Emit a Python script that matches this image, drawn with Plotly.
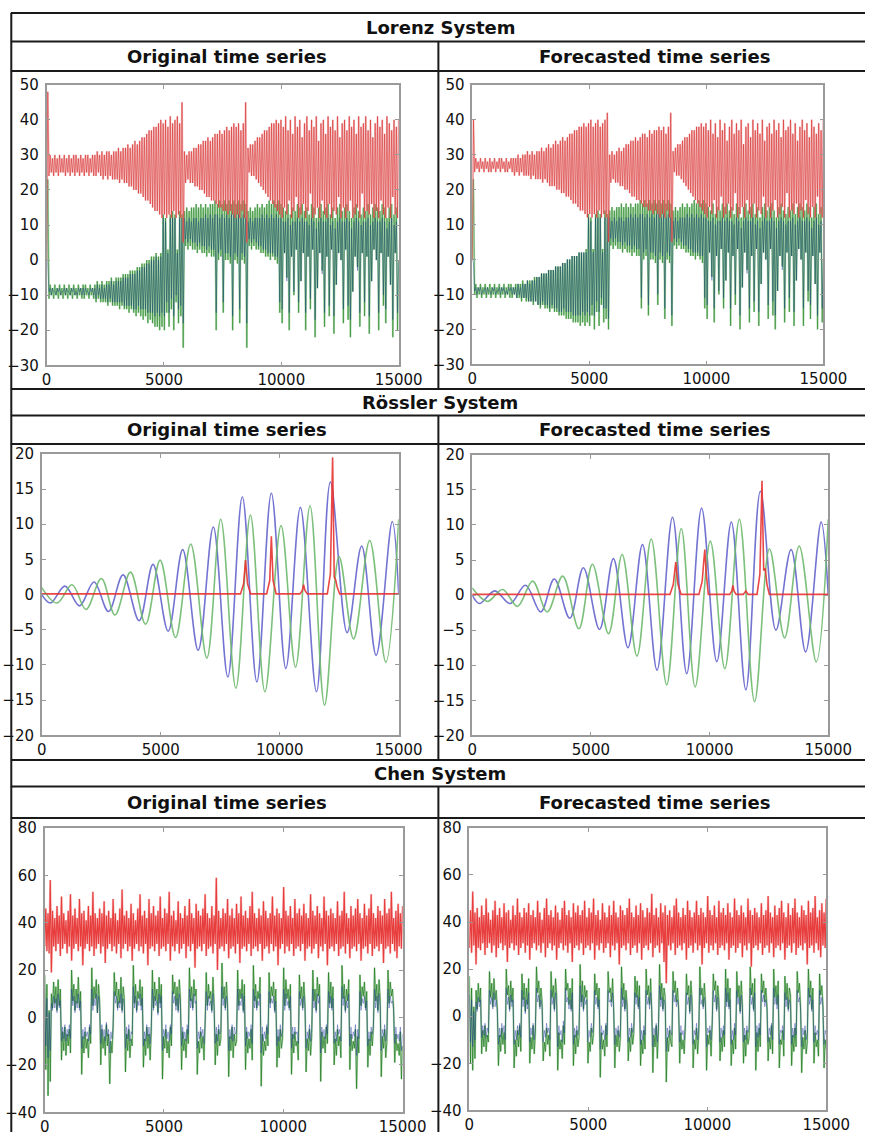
import numpy as np
import plotly.graph_objects as go

W, H = 889, 1141
T_END = 15000
FONT = "DejaVu Sans"

# ---------------- Lorenz system: turning-point values, evenly spaced in time ----------------
LORENZ_ORIG_Z = [
    0, 48, 24, 30, 25, 29, 24, 30, 25, 29, 24, 30, 25, 29, 25, 30, 24, 29, 25, 30,
    24, 29, 25, 30, 24, 30, 25, 29, 24, 30, 25, 29, 24, 30, 25, 30, 24, 29, 25, 30,
    24, 30, 24, 31, 25, 30, 24, 31, 23, 30, 24, 31, 23, 31, 24, 30, 23, 31, 23, 31,
    23, 32, 22, 31, 23, 32, 22, 32, 22, 33, 21, 32, 21, 33, 20, 34, 20, 33, 19, 34,
    19, 35, 18, 35, 17, 36, 17, 37, 16, 37, 15, 38, 14, 38, 14, 39, 13, 40, 12, 39,
    13, 40, 12, 38, 13, 41, 12, 39, 14, 40, 12, 41, 13, 39, 12, 45, 5, 31, 22, 30,
    23, 31, 22, 31, 22, 32, 21, 32, 21, 33, 20, 33, 20, 34, 19, 34, 18, 35, 18, 34,
    17, 35, 17, 36, 16, 36, 15, 37, 15, 36, 14, 37, 14, 38, 13, 37, 14, 38, 13, 39,
    12, 38, 13, 39, 12, 37, 14, 39, 12, 45, 5, 32, 25, 33, 24, 33, 24, 34, 23, 35,
    22, 35, 21, 36, 20, 37, 19, 37, 18, 38, 17, 39, 16, 39, 15, 40, 14, 39, 13, 40,
    12, 38, 15, 41, 13, 37, 17, 40, 12, 36, 14, 41, 18, 38, 12, 40, 13, 35, 16, 39,
    12, 41, 14, 37, 19, 40, 12, 38, 13, 41, 15, 34, 12, 39, 17, 40, 13, 36, 12, 41,
    16, 38, 12, 40, 14, 37, 13, 41, 18, 35, 12, 39, 15, 40, 12, 37, 14, 41, 17, 38,
    12, 40, 13, 36, 15, 41, 12, 38, 19, 39, 12, 41, 14, 37, 13, 40, 16, 35, 12, 39,
    14, 41, 12, 38, 17, 40, 13, 36, 12, 41, 15, 39, 12, 37, 18, 40, 13, 38, 12, 40]

LORENZ_ORIG_Y = [
    0, 23, -11, -7, -10, -8, -11, -7, -10, -8, -11, -7, -10, -8, -11, -7, -10, -8, -11, -7,
    -10, -8, -11, -7, -10, -8, -11, -7, -10, -8, -11, -7, -11, -7, -10, -8, -11, -7, -10, -8,
    -11, -7, -12, -6, -11, -7, -12, -6, -12, -7, -12, -6, -13, -6, -12, -5, -13, -6, -13, -5,
    -13, -5, -14, -5, -13, -4, -14, -4, -14, -4, -15, -3, -14, -3, -15, -3, -16, -2, -15, -2,
    -16, -1, -17, -1, -16, 0, -18, 0, -17, 1, -18, 1, -19, 2, -19, 1, -20, 2, -19, 13,
    -20, 12, -15, 3, -19, 13, -14, 14, -20, 13, -12, 3, -18, 14, -16, 13, -25, 14, 4, 15,
    3, 14, 4, 15, 3, 15, 3, 16, 2, 15, 3, 16, 2, 15, 2, 16, 1, 15, 2, 16,
    1, 16, 1, 17, -20, 16, 0, 17, 1, 16, -15, 17, 0, 16, 0, 17, -1, 16, -20, 17,
    0, 16, -1, 17, -18, 16, 0, 17, -1, 16, -25, 14, 4, 15, 3, 14, 4, 15, 3, 16,
    3, 15, 2, 16, 2, 15, 1, 16, 1, 17, 0, 16, 1, 17, 0, 16, -1, 17, -15, 16,
    -18, 15, 2, 14, -5, 16, -20, 13, 1, 15, -10, 14, 3, 16, -15, 15, -6, 16, 2, 14,
    -20, 15, 1, 13, -14, 16, 3, 15, -22, 12, -8, 15, 2, 16, -3, 14, -19, 15, 1, 16,
    -16, 13, 3, 15, -21, 12, -7, 15, 2, 16, 0, 14, -18, 15, 3, 16, -17, 14, -22, 12,
    -9, 15, 1, 16, -2, 14, -19, 13, 2, 15, -16, 14, 1, 16, -21, 13, -6, 15, 3, 16,
    0, 15, -20, 14, 2, 16, -13, 15, -18, 12, 1, 15, -7, 16, -22, 13, 2, 15, -20, 0]

LORENZ_ORIG_X = [
    0, -1, -9, -8, -10, -8, -9, -9, -10, -8, -9, -8, -10, -9, -9, -8, -10, -8, -9, -9,
    -10, -8, -9, -8, -10, -9, -10, -8, -9, -8, -10, -8, -10, -8, -9, -9, -10, -8, -9, -8,
    -10, -8, -11, -7, -10, -8, -11, -7, -11, -8, -11, -7, -12, -7, -11, -6, -12, -7, -12, -6,
    -12, -6, -12, -6, -12, -5, -13, -5, -13, -5, -13, -4, -13, -4, -14, -4, -14, -3, -13, -3,
    -14, -2, -14, -2, -14, -1, -15, -1, -15, 0, -15, 0, -16, 1, -15, 0, -16, 1, -15, 12,
    -16, 11, -12, 2, -15, 12, -11, 12, -16, 12, -10, 2, -14, 12, -13, 12, -18, 12, 6, 11,
    5, 12, 6, 11, 5, 12, 5, 12, 4, 11, 5, 12, 4, 12, 4, 13, 3, 12, 4, 13,
    3, 12, 3, 13, -15, 13, 2, 12, 3, 13, -12, 12, 2, 13, 2, 12, 1, 13, -16, 13,
    2, 12, 1, 13, -14, 12, 2, 13, 1, 12, -18, 11, 6, 12, 5, 11, 6, 12, 5, 12,
    4, 12, 4, 13, 3, 12, 3, 13, 2, 12, 2, 13, 2, 12, 1, 13, 1, 12, -12, 12,
    -14, 11, 2, 11, -6, 12, -15, 10, 1, 11, -9, 11, 3, 12, -12, 11, -6, 12, 2, 11,
    -15, 11, 1, 10, -11, 12, 3, 11, -17, 9, -8, 11, 2, 12, -4, 11, -15, 11, 1, 12,
    -13, 10, 3, 11, -16, 9, -7, 11, 2, 12, 0, 11, -14, 11, 3, 12, -13, 11, -17, 9,
    -9, 11, 1, 12, -3, 11, -15, 10, 2, 11, -12, 11, 1, 12, -16, 10, -6, 11, 3, 12,
    0, 11, -15, 11, 2, 12, -10, 11, -14, 9, 1, 11, -7, 12, -17, 10, 2, 11, -15, 0]

LORENZ_FCST_Z = [
    0, 40, 25, 29, 26, 28, 25, 29, 26, 28, 25, 29, 26, 28, 25, 29, 25, 28, 26, 29,
    25, 28, 26, 29, 25, 29, 26, 28, 25, 29, 25, 28, 26, 29, 25, 29, 24, 29, 25, 30,
    24, 29, 25, 30, 24, 30, 24, 31, 24, 30, 23, 31, 24, 30, 23, 31, 23, 31, 23, 32,
    22, 31, 23, 32, 22, 33, 21, 32, 21, 33, 21, 34, 20, 33, 20, 34, 19, 35, 19, 34,
    18, 35, 18, 36, 17, 36, 16, 37, 16, 37, 15, 38, 14, 38, 14, 39, 13, 38, 12, 39,
    13, 40, 12, 38, 13, 39, 12, 40, 14, 38, 12, 39, 13, 40, 12, 42, 5, 30, 22, 31,
    23, 30, 22, 31, 22, 32, 21, 31, 21, 32, 20, 33, 20, 33, 19, 34, 18, 34, 18, 35,
    17, 34, 17, 35, 16, 36, 15, 36, 15, 35, 14, 37, 14, 36, 13, 37, 14, 37, 13, 38,
    12, 37, 13, 38, 12, 36, 14, 38, 12, 42, 5, 31, 25, 32, 24, 33, 24, 33, 23, 34,
    22, 35, 21, 35, 20, 36, 19, 37, 18, 37, 17, 38, 16, 38, 15, 39, 14, 38, 13, 39,
    12, 37, 15, 40, 13, 36, 17, 39, 12, 35, 14, 40, 18, 37, 12, 39, 13, 34, 16, 38,
    12, 40, 14, 36, 19, 39, 12, 37, 13, 40, 15, 33, 12, 38, 17, 39, 13, 35, 12, 40,
    16, 37, 12, 39, 14, 36, 13, 40, 18, 34, 12, 38, 15, 39, 12, 36, 14, 40, 17, 37,
    12, 39, 13, 35, 15, 40, 12, 37, 19, 38, 12, 40, 14, 36, 13, 39, 16, 34, 12, 38,
    14, 40, 12, 37, 17, 39, 13, 35, 12, 40, 15, 38, 12, 36, 18, 39, 13, 37, 12, 40]

LORENZ_FCST_Y = [
    0, 23, -10, -7, -11, -8, -10, -7, -11, -8, -10, -7, -11, -8, -10, -7, -11, -8, -10, -7,
    -11, -8, -10, -7, -11, -8, -10, -7, -11, -8, -10, -7, -11, -7, -11, -8, -10, -7, -11, -7,
    -11, -7, -12, -6, -11, -7, -12, -6, -12, -6, -12, -6, -13, -5, -12, -5, -13, -5, -14, -4,
    -13, -4, -14, -4, -14, -3, -15, -3, -14, -3, -15, -2, -15, -2, -16, -2, -16, -1, -16, -1,
    -17, 0, -17, 0, -17, 1, -18, 1, -18, 1, -18, 2, -19, 2, -18, 2, -19, 3, -18, 13,
    -19, 12, -16, 3, -20, 13, -15, 14, -19, 13, -13, 3, -18, 14, -17, 13, -20, 14, 4, 15,
    3, 14, 4, 15, 3, 15, 3, 16, 2, 15, 3, 16, 2, 15, 2, 16, 1, 15, 2, 16,
    1, 16, 1, 17, -14, 16, 0, 17, 1, 16, -16, 17, 0, 16, 0, 17, -1, 16, -13, 17,
    0, 16, -1, 17, -17, 16, 0, 17, -1, 16, -19, 14, 4, 15, 3, 14, 4, 15, 3, 16,
    3, 15, 2, 16, 2, 15, 1, 16, 1, 17, 0, 16, 1, 17, 0, 16, -1, 17, -14, 16,
    -17, 15, 2, 14, -5, 16, -18, 13, 1, 15, -10, 14, 3, 16, -14, 15, -6, 16, 2, 14,
    -19, 15, 1, 13, -13, 16, 3, 15, -20, 12, -8, 15, 2, 16, -3, 14, -18, 15, 1, 16,
    -15, 13, 3, 15, -19, 12, -7, 15, 2, 16, 0, 14, -17, 15, 3, 16, -16, 14, -20, 12,
    -9, 15, 1, 16, -2, 14, -18, 13, 2, 15, -15, 14, 1, 16, -19, 13, -6, 15, 3, 16,
    0, 15, -19, 14, 2, 16, -12, 15, -17, 12, 1, 15, -7, 16, -20, 13, 2, 15, -18, 0]

LORENZ_FCST_X = [
    0, -1, -9, -8, -10, -8, -9, -8, -10, -9, -9, -8, -10, -8, -9, -9, -10, -8, -9, -8,
    -10, -9, -9, -8, -10, -8, -9, -8, -10, -9, -10, -8, -9, -8, -10, -8, -10, -8, -11, -7,
    -10, -8, -11, -7, -11, -7, -11, -6, -12, -7, -12, -6, -12, -6, -12, -5, -13, -5, -13, -4,
    -12, -4, -13, -4, -13, -3, -14, -3, -13, -3, -14, -2, -14, -2, -15, -2, -15, -1, -14, -1,
    -15, 0, -15, 0, -15, 1, -16, 1, -16, 1, -16, 2, -16, 2, -15, 2, -16, 2, -15, 12,
    -16, 11, -13, 2, -16, 12, -12, 12, -15, 12, -11, 2, -14, 12, -14, 12, -17, 12, 6, 11,
    5, 12, 6, 11, 5, 12, 5, 12, 4, 11, 5, 12, 4, 12, 4, 13, 3, 12, 4, 13,
    3, 12, 3, 13, -11, 13, 2, 12, 3, 13, -13, 12, 2, 13, 2, 12, 1, 13, -10, 13,
    2, 12, 1, 13, -14, 12, 2, 13, 1, 12, -16, 11, 6, 12, 5, 11, 6, 12, 5, 12,
    4, 12, 4, 13, 3, 12, 3, 13, 2, 12, 2, 13, 2, 12, 1, 13, 1, 12, -11, 12,
    -13, 11, 2, 11, -6, 12, -14, 10, 1, 11, -9, 11, 3, 12, -11, 11, -6, 12, 2, 11,
    -14, 11, 1, 10, -10, 12, 3, 11, -16, 9, -8, 11, 2, 12, -4, 11, -14, 11, 1, 12,
    -12, 10, 3, 11, -15, 9, -7, 11, 2, 12, 0, 11, -13, 11, 3, 12, -12, 11, -16, 9,
    -9, 11, 1, 12, -3, 11, -14, 10, 2, 11, -11, 11, 1, 12, -15, 10, -6, 11, 3, 12,
    0, 11, -14, 11, 2, 12, -9, 11, -13, 9, 1, 11, -7, 12, -16, 10, 2, 11, -14, 0]

# ---------------- Rossler system: extrema (time, value) ----------------
ROSSLER_ORIG_X_T = [0, 366, 975, 1585, 2195, 2805, 3415, 4092, 4675, 5312, 5921, 6572, 7209,
                    7818, 8428, 9038, 9648, 10257, 10867, 11545, 12128, 12832, 13442, 14051,
                    14729, 15000]
ROSSLER_ORIG_X = [0, -1.2, 1.2, -1.6, 1.8, -2.4, 2.8, -3.7, 4.3, -5.2, 6.4, -7.9, 9.6,
                  -11.7, 13.9, -12.4, 14.4, -10.5, 12.4, -13.8, 16.0, -5.4, 6.9, -8.6,
                  10.4, 0]
ROSSLER_ORIG_Y_T = [0, 637, 1274, 1856, 2507, 3076, 3726, 4363, 4973, 5623, 6260, 6938, 7520,
                    8157, 8767, 9377, 10054, 10664, 11274, 11884, 12493, 13103, 13780, 14458,
                    15000]
ROSSLER_ORIG_Y = [1.0, -1.2, 1.4, -2.1, 2.3, -2.9, 3.2, -4.2, 4.9, -6.1, 7.2, -9.0, 10.7,
                  -13.3, 11.3, -13.8, 9.8, -10.3, 12.6, -15.7, 5.4, -6.3, 7.7, -9.6, 10.7]
ROSSLER_ORIG_Z_T = [0, 8350, 8480, 8564, 8650, 8780, 9450, 9580, 9648, 9720, 9850, 10850,
                    10950, 11003, 11060, 11160, 12000, 12130, 12222, 12290, 12350, 12420,
                    12520, 15000]
ROSSLER_ORIG_Z = [0.1, 0.1, 1.5, 4.9, 1.5, 0.1, 0.1, 2.0, 8.3, 2.0, 0.1, 0.1,
                  0.6, 1.4, 0.6, 0.1, 0.1, 3.0, 19.5, 2.5, 2.1, 1.0,
                  0.1, 0.1]

ROSSLER_FCST_X_T = [0, 300, 953, 1593, 2246, 2886, 3457, 4111, 4682, 5363, 5948, 6561, 7174,
                    7786, 8439, 9038, 9664, 10304, 10917, 11529, 12141, 12795, 13434, 14047,
                    14701, 15000]
ROSSLER_FCST_X = [0, -1.2, 0.6, -1.2, 1.4, -2.4, 2.3, -3.3, 3.9, -4.9, 5.2, -7.5, 7.2,
                  -10.7, 11.1, -11.2, 12.4, -9.5, 10.4, -13.5, 14.8, -5.0, 6.5, -8.1,
                  10.4, 0]
ROSSLER_FCST_Y_T = [0, 640, 1279, 1906, 2545, 3158, 3811, 4492, 5064, 5744, 6316, 6942, 7541,
                    8194, 8807, 9392, 10032, 10644, 11257, 11897, 12523, 13162, 13775, 14497,
                    15000]
ROSSLER_FCST_Y = [1.0, -0.9, 0.8, -1.6, 2.0, -2.4, 2.7, -4.8, 4.4, -5.5, 5.8, -8.7, 8.0,
                  -12.8, 9.5, -13.1, 7.7, -10.5, 10.8, -15.2, 6.6, -6.1, 7.0, -9.5, 10.8]
ROSSLER_FCST_Z_T = [0, 8330, 8470, 8575, 8670, 8800, 9550, 9690, 9760, 9800, 9860, 9950,
                    10850, 10940, 10984, 11030, 11120, 11420, 11529, 11620, 12000, 12120,
                    12209, 12280, 12345, 12420, 12520, 15000]
ROSSLER_FCST_Z = [0.1, 0.1, 1.5, 4.7, 1.5, 0.1, 0.1, 2.0, 5.0, 6.5, 3.0, 0.1,
                  0.1, 0.6, 1.4, 0.6, 0.1, 0.1, 0.6, 0.1, 0.1, 3.0,
                  16.3, 3.5, 3.8, 1.5, 0.1, 0.1]

# ---------------- Chen system: turning-point values, evenly spaced in time ----------------
CHEN_ORIG_Z = [
    30, 46, 28, 44, 27, 58, 19, 45, 30, 42, 28, 47, 31, 43, 26, 51, 29, 44, 31, 41,
    27, 45, 30, 52, 24, 43, 29, 46, 31, 42, 28, 50, 30, 44, 22, 45, 29, 41, 31, 47,
    28, 43, 30, 53, 26, 44, 29, 42, 31, 46, 27, 44, 30, 49, 23, 43, 29, 45, 31, 42,
    28, 50, 30, 44, 27, 41, 31, 46, 25, 54, 29, 43, 31, 45, 28, 42, 30, 48, 24, 44,
    29, 41, 31, 46, 28, 52, 30, 43, 27, 45, 31, 42, 22, 50, 29, 44, 30, 47, 28, 43,
    31, 45, 26, 51, 29, 42, 30, 46, 28, 44, 31, 53, 24, 43, 30, 45, 28, 41, 31, 49,
    27, 44, 29, 42, 31, 47, 25, 43, 30, 50, 28, 44, 31, 42, 21, 48, 29, 45, 30, 43,
    28, 46, 31, 52, 26, 44, 29, 42, 30, 47, 27, 43, 31, 59, 20, 45, 29, 42, 30, 46,
    28, 44, 31, 50, 25, 43, 29, 46, 30, 42, 27, 48, 31, 44, 23, 51, 29, 43, 30, 45,
    28, 42, 31, 47, 26, 53, 29, 44, 30, 42, 28, 46, 31, 43, 24, 49, 29, 45, 30, 42,
    27, 44, 31, 51, 28, 43, 30, 46, 22, 44, 29, 42, 31, 55, 27, 45, 30, 43, 28, 47,
    31, 42, 26, 50, 29, 44, 30, 46, 28, 43, 31, 48, 24, 44, 29, 42, 30, 52, 27, 45,
    29, 43, 31, 47, 25, 44, 30, 42, 28, 51, 31, 45, 22, 43, 29, 46, 30, 44, 28, 42,
    31, 49, 26, 43, 29, 45, 30, 53, 27, 44, 31, 42, 25, 47, 29, 43, 30, 46, 28, 50,
    31, 44, 24, 42, 29, 48, 30, 43, 27, 46, 31, 52, 26, 44, 29, 42, 30, 47, 28, 45,
    31, 43, 23, 50, 29, 44, 30, 46, 27, 53, 31, 42, 28, 45, 25, 48, 30, 44, 29, 47]

CHEN_ORIG_Y = [
    18, -22, 14, -33, 3, -27, 10, 4, 15, 6, 13, 3, 16, 5, 12, -18, -6, -14, -4, -16,
    -7, -12, -5, -15, 20, 7, 14, 3, 12, 6, 17, 4, 11, -24, -8, -15, -6, -13, -9, -17,
    -4, -11, 21, 5, 13, 8, 16, 2, 14, 7, -20, -5, -13, -8, -16, -3, -12, -7, -28, -10,
    -15, -5, 19, 9, 15, 4, 12, 6, 17, 3, 13, 8, -23, -7, -14, -5, -17, -9, -12, 22,
    6, 14, 3, 11, 8, 16, 5, 13, -21, -9, -16, -4, -13, -7, -18, -6, 20, 4, 15, 7,
    12, 2, 17, 6, 14, -26, -8, -13, -5, -15, -10, -17, -4, -12, 18, 10, 15, 5, 13, 3,
    16, 8, -22, -6, -14, -9, -17, -5, -11, 21, 7, 13, 4, 16, 9, 12, -24, -10, -15, -6,
    -13, -8, -18, -3, 19, 5, 14, 8, 11, 3, 17, 6, -20, -7, -16, -5, -12, -9, 23, 8,
    13, 4, 15, 6, -25, -8, -14, -4, -17, -7, -12, -10, 20, 5, 12, 8, 16, 3, 14, -22,
    -6, -15, -9, -13, -5, -18, 22, 7, 14, 4, 11, 8, 17, -29, -7, -16, -10, -14, -4, -12,
    19, 6, 13, 9, 15, 3, 12, -21, -8, -17, -5, -13, -9, 21, 5, 16, 8, 12, 4, 14,
    -24, -7, -15, -6, -12, -10, -18, 18, 8, 13, 4, 15, 6, -23, -9, -14, -5, -16, -8, 20,
    7, 12, 3, 17, 9, 14, -27, -6, -13, -8, -15, -4, -11, 19, 6, 15, 4, 13, -20, -9,
    -16, -5, -12, -8, -17, 22, 8, 14, 3, 12, 7, 16, -22, -7, -14, -10, -13, -5, -30, -8,
    -15, 18, 5, 13, 9, 15, 4, 11, -21, -9, -16, -6, -12, -4, 21, 7, 14, 3, 16, 8,
    -25, -8, -13, -5, -17, -10, 20, 6, 15, 9, 12, 4, -19, -7, -14, -11, -16, -6, -26, -12]

CHEN_ORIG_X = [
    10, -12, 8, -17, 2, -14, 6, 3, 9, 4, 8, 2, 10, 4, 7, -10, -4, -9, -3, -10,
    -5, -8, -3, -9, 12, 5, 9, 2, 7, 4, 10, 3, 7, -13, -5, -9, -4, -8, -6, -10,
    -3, -7, 12, 3, 8, 5, 10, 2, 9, 5, -11, -3, -8, -5, -10, -2, -8, -5, -15, -6,
    -9, -3, 11, 6, 9, 3, 7, 4, 10, 2, 8, 5, -13, -4, -9, -3, -10, -6, -7, 13,
    4, 9, 2, 7, 5, 10, 3, 8, -12, -6, -10, -3, -8, -4, -11, -4, 12, 3, 9, 5,
    7, 1, 10, 4, 9, -14, -5, -8, -3, -9, -6, -10, -3, -7, 11, 6, 9, 3, 8, 2,
    10, 5, -12, -4, -9, -6, -10, -3, -7, 12, 4, 8, 3, 10, 6, 7, -13, -6, -9, -4,
    -8, -5, -11, -2, 11, 3, 9, 5, 7, 2, 10, 4, -11, -4, -10, -3, -7, -6, 13, 5,
    8, 3, 9, 4, -14, -5, -9, -3, -10, -4, -7, -6, 12, 3, 7, 5, 10, 2, 9, -12,
    -4, -9, -6, -8, -3, -11, 12, 4, 9, 3, 7, 5, 10, -15, -4, -10, -6, -9, -3, -7,
    11, 4, 8, 6, 9, 2, 7, -12, -5, -10, -3, -8, -6, 12, 3, 10, 5, 7, 3, 9,
    -13, -4, -9, -4, -7, -6, -11, 11, 5, 8, 3, 9, 4, -13, -6, -9, -3, -10, -5, 12,
    4, 7, 2, 10, 6, 9, -15, -4, -8, -5, -9, -3, -7, 11, 4, 9, 3, 8, -11, -6,
    -10, -3, -7, -5, -10, 13, 5, 9, 2, 7, 4, 10, -12, -4, -9, -6, -8, -3, -16, -5,
    -9, 11, 3, 8, 6, 9, 3, 7, -12, -6, -10, -4, -7, -3, 12, 4, 9, 2, 10, 5,
    -14, -5, -8, -3, -10, -6, 12, 4, 9, 6, 7, 3, -11, -4, -9, -7, -10, -4, -14, -7]

CHEN_FCST_Z = [
    29, 45, 27, 53, 30, 44, 22, 46, 29, 42, 28, 47, 31, 43, 26, 50, 29, 44, 31, 41,
    27, 45, 30, 49, 25, 43, 29, 46, 31, 42, 28, 48, 30, 44, 23, 45, 29, 41, 31, 47,
    28, 43, 30, 50, 26, 44, 29, 42, 31, 46, 27, 44, 30, 48, 24, 43, 29, 45, 31, 42,
    28, 49, 30, 44, 27, 41, 31, 46, 25, 50, 29, 43, 31, 45, 28, 42, 30, 47, 24, 44,
    29, 41, 31, 46, 28, 49, 30, 43, 27, 45, 31, 42, 23, 48, 29, 44, 30, 47, 28, 43,
    31, 45, 26, 49, 29, 42, 30, 46, 28, 44, 31, 50, 24, 43, 30, 45, 28, 41, 31, 48,
    27, 44, 29, 42, 31, 47, 25, 43, 30, 49, 28, 44, 31, 42, 22, 47, 29, 45, 30, 43,
    28, 46, 31, 50, 26, 44, 29, 42, 30, 47, 27, 43, 31, 48, 24, 45, 29, 42, 30, 46,
    28, 44, 31, 52, 25, 43, 29, 46, 30, 42, 27, 48, 31, 44, 23, 47, 14, 43, 30, 45,
    28, 42, 31, 47, 26, 50, 29, 44, 30, 42, 28, 46, 31, 43, 24, 49, 29, 45, 30, 42,
    27, 44, 31, 49, 28, 43, 30, 46, 22, 44, 29, 42, 31, 51, 27, 45, 30, 43, 28, 47,
    31, 42, 26, 49, 29, 44, 30, 46, 28, 43, 31, 48, 24, 44, 29, 42, 30, 50, 27, 45,
    29, 43, 31, 47, 25, 44, 30, 42, 28, 50, 31, 45, 21, 43, 29, 46, 30, 44, 28, 42,
    31, 48, 26, 43, 29, 45, 30, 51, 27, 44, 31, 42, 25, 47, 29, 43, 30, 46, 28, 49,
    31, 44, 24, 42, 29, 48, 30, 43, 27, 46, 31, 50, 26, 44, 29, 42, 30, 47, 28, 45,
    31, 43, 22, 49, 29, 44, 30, 46, 27, 51, 31, 42, 28, 45, 25, 48, 30, 44, 29, 50]

CHEN_FCST_Y = [
    17, -20, 12, -23, 4, -18, 11, 3, 14, 6, 12, -16, -6, -13, -4, -15, -8, -11, 19, 8,
    14, 4, 16, 7, 11, 3, -21, -8, -15, -5, -12, -7, -16, 20, 9, 13, 3, 15, 6, 12,
    -22, -10, -17, -6, -13, -4, -15, 18, 7, 14, 2, 12, 5, 16, -20, -9, -14, -4, -16, -7,
    21, 10, 15, 4, 12, 6, -19, -11, -15, -5, -12, -8, -17, 19, 8, 13, 3, 16, 9, -23,
    -7, -14, -10, -18, -4, -12, 20, 11, 14, 5, 12, 3, 16, -21, -8, -16, -6, -13, -9, 22,
    6, 15, 3, 13, 8, 11, -20, -11, -15, -5, -12, -7, 18, 9, 14, 4, 12, -26, -7, -14,
    -10, -17, -4, -13, 19, 10, 12, 6, 16, 3, -22, -8, -13, -6, -15, -9, 21, 7, 14, 3,
    11, 5, -19, -9, -15, -5, -12, -7, 17, 8, 15, 4, 13, -21, -10, -16, -6, -14, 20, 9,
    13, 5, 16, 3, -24, -8, -13, -4, -18, -6, 22, 7, 14, 3, 12, 8, -28, -9, -15, -6,
    -11, -13, 19, 10, 15, 6, 12, 4, -20, -7, -14, -10, -16, -5, 18, 9, 13, 2, 15, 7,
    -22, -10, -14, -5, -16, -8, 21, 9, 12, 4, 14, 6, -23, -8, -12, -6, -17, -4, 18, 11,
    15, 3, 13, 7, -19, -9, -15, -6, -13, 20, 6, 16, 4, 12, -21, -10, -16, -5, -14, 19,
    8, 13, 2, 15, 5, -20, -8, -17, -6, -12, -9, 21, 9, 14, 3, 16, -23, -7, -15, -5,
    -13, 18, 10, 15, 6, 12, 4, -19, -9, -14, -4, -16, 20, 8, 13, 5, 15, -22, -10, -12,
    -6, -17, 17, 7, 14, 3, 12, 9, -21, -8, -15, -5, -13, 19, 10, 14, 4, -24, -9, -14,
    -6, -16, -11, 20, 8, 15, 3, 12, -20, -7, -13, -10, -17, 18, 9, 13, 5, -22, -10, -14]

CHEN_FCST_X = [
    9, -11, 7, -13, 2, -10, 6, 2, 8, 4, 7, -9, -4, -8, -3, -9, -5, -7, 11, 5,
    8, 3, 10, 4, 7, 2, -12, -5, -9, -3, -7, -4, -10, 12, 5, 8, 2, 9, 4, 7,
    -12, -6, -10, -4, -8, -3, -9, 11, 4, 8, 1, 7, 3, 10, -11, -5, -8, -3, -10, -4,
    12, 6, 9, 3, 7, 4, -11, -6, -9, -3, -7, -5, -10, 11, 5, 8, 2, 10, 5, -13,
    -4, -8, -6, -11, -2, -7, 12, 6, 8, 3, 7, 2, 10, -12, -5, -9, -4, -8, -5, 13,
    4, 9, 2, 8, 5, 7, -11, -6, -9, -3, -7, -4, 11, 5, 8, 3, 7, -14, -4, -8,
    -6, -10, -3, -8, 11, 6, 7, 4, 10, 2, -12, -5, -8, -4, -9, -5, 12, 4, 8, 2,
    7, 3, -11, -5, -9, -3, -7, -4, 10, 5, 9, 3, 8, -12, -6, -10, -4, -8, 11, 5,
    8, 3, 10, 2, -13, -5, -8, -3, -11, -4, 13, 4, 8, 2, 7, 5, -15, -5, -9, -4,
    -7, -8, 11, 6, 9, 4, 7, 3, -11, -4, -8, -6, -10, -3, 10, 5, 8, 1, 9, 4,
    -12, -6, -8, -3, -10, -5, 12, 5, 7, 3, 8, 4, -13, -5, -7, -4, -10, -3, 11, 6,
    9, 2, 8, 4, -11, -5, -9, -4, -8, 12, 4, 10, 3, 7, -12, -6, -10, -3, -8, 11,
    5, 8, 1, 9, 3, -11, -5, -10, -4, -7, -5, 12, 5, 8, 2, 10, -13, -4, -9, -3,
    -8, 11, 6, 9, 4, 7, 3, -11, -5, -8, -3, -10, 12, 5, 8, 3, 9, -12, -6, -7,
    -4, -10, 10, 4, 8, 2, 7, 5, -12, -5, -9, -3, -8, 11, 6, 8, 3, -13, -5, -8,
    -4, -10, -7, 12, 5, 9, 2, 7, -11, -4, -8, -6, -10, 11, 5, 8, 3, -12, -6, -8]

# ---------------- table text ----------------
SYSTEM_TITLES = ["Lorenz System", "Rössler System", "Chen System"]
COLUMN_TITLES = ["Original time series", "Forecasted time series"]
X_TICKS = [0, 5000, 10000, 15000]
X_TICK_TEXT = ["0", "5000", "10000", "15000"]


def even_t(vals):
    return np.linspace(0, T_END, len(vals))


# line styles: each series is drawn as a list of (colour, width) strokes, bottom to top
LZ_RED = [("rgba(236,150,150,0.50)", 2.0), ("rgba(214,35,35,0.65)", 0.8)]
LZ_GREEN = [("rgba(130,195,130,0.55)", 2.0), ("rgba(30,130,30,0.65)", 0.8)]
LZ_BLUE = [("rgba(20,50,140,0.45)", 0.8)]
RS_RED = [("rgba(232,50,50,0.90)", 1.6)]
RS_GREEN = [("rgba(110,185,110,0.90)", 1.6)]
RS_BLUE = [("rgba(100,100,205,0.90)", 1.6)]
CH_RED = [("rgba(240,130,130,0.55)", 2.2), ("rgba(228,30,30,0.80)", 1.1)]
CH_GREEN = [("rgba(140,195,140,0.55)", 2.0), ("rgba(25,120,25,0.75)", 0.9)]
CH_BLUE = [("rgba(30,50,160,0.50)", 0.8)]

# panel layout in pixels: (x_left, x_right), (y_top, y_bottom), y range, y step, series
panels = [
    dict(xp=(43, 407), yp=(77, 362), yr=(-30, 50), dy=10, series=[
        (even_t(LORENZ_ORIG_Y), LORENZ_ORIG_Y, LZ_GREEN, "linear"),
        (even_t(LORENZ_ORIG_X), LORENZ_ORIG_X, LZ_BLUE, "linear"),
        (even_t(LORENZ_ORIG_Z), LORENZ_ORIG_Z, LZ_RED, "linear")]),
    dict(xp=(483, 846), yp=(77, 361), yr=(-30, 50), dy=10, series=[
        (even_t(LORENZ_FCST_Y), LORENZ_FCST_Y, LZ_GREEN, "linear"),
        (even_t(LORENZ_FCST_X), LORENZ_FCST_X, LZ_BLUE, "linear"),
        (even_t(LORENZ_FCST_Z), LORENZ_FCST_Z, LZ_RED, "linear")]),
    dict(xp=(38, 407), yp=(452, 738), yr=(-20, 20), dy=5, series=[
        (ROSSLER_ORIG_X_T, ROSSLER_ORIG_X, RS_BLUE, "spline"),
        (ROSSLER_ORIG_Y_T, ROSSLER_ORIG_Y, RS_GREEN, "spline"),
        (ROSSLER_ORIG_Z_T, ROSSLER_ORIG_Z, RS_RED, "linear")]),
    dict(xp=(483, 851), yp=(453, 738), yr=(-20, 20), dy=5, series=[
        (ROSSLER_FCST_X_T, ROSSLER_FCST_X, RS_BLUE, "spline"),
        (ROSSLER_FCST_Y_T, ROSSLER_FCST_Y, RS_GREEN, "spline"),
        (ROSSLER_FCST_Z_T, ROSSLER_FCST_Z, RS_RED, "linear")]),
    dict(xp=(41, 411), yp=(832, 1121), yr=(-40, 80), dy=20, series=[
        (even_t(CHEN_ORIG_Y), CHEN_ORIG_Y, CH_GREEN, "linear"),
        (even_t(CHEN_ORIG_X), CHEN_ORIG_X, CH_BLUE, "linear"),
        (even_t(CHEN_ORIG_Z), CHEN_ORIG_Z, CH_RED, "linear")]),
    dict(xp=(480, 849), yp=(832, 1119), yr=(-40, 80), dy=20, series=[
        (even_t(CHEN_FCST_Y), CHEN_FCST_Y, CH_GREEN, "linear"),
        (even_t(CHEN_FCST_X), CHEN_FCST_X, CH_BLUE, "linear"),
        (even_t(CHEN_FCST_Z), CHEN_FCST_Z, CH_RED, "linear")]),
]


def fx(p):
    return p / W


def fy(p):
    return 1 - p / H


fig = go.Figure()
layout = {}
for k, p in enumerate(panels, start=1):
    sfx = "" if k == 1 else str(k)
    for t, v, strokes, shape in p["series"]:
        for col, w in strokes:
            fig.add_trace(go.Scatter(x=t, y=v, mode="lines", xaxis="x" + sfx, yaxis="y" + sfx,
                                     line=dict(color=col, width=w, shape=shape, simplify=False),
                                     showlegend=False, hoverinfo="skip"))
    axis_common = dict(showline=True, linecolor="#9a9a9a", linewidth=1.5, mirror="ticks",
                       ticks="inside", ticklen=4, tickwidth=1, tickcolor="#9a9a9a",
                       showgrid=False, zeroline=False, fixedrange=True,
                       tickfont=dict(family=FONT, size=15, color="#111"))
    layout["xaxis" + sfx] = dict(axis_common, domain=[fx(p["xp"][0]), fx(p["xp"][1])],
                                 anchor="y" + sfx, range=[0, T_END], tickvals=X_TICKS,
                                 ticktext=X_TICK_TEXT, ticklabelstandoff=0)
    y0, y1 = p["yr"]
    layout["yaxis" + sfx] = dict(axis_common, domain=[fy(p["yp"][1]), fy(p["yp"][0])],
                                 anchor="x" + sfx, range=[y0, y1],
                                 tickvals=list(range(y0, y1 + 1, p["dy"])),
                                 ticklabelstandoff=3)

# table frame
shapes = []
LINE = dict(color="#1a1a1a", width=2)
for py in [4, 33, 63, 386, 413, 442, 763, 790, 822]:
    shapes.append(dict(type="line", xref="paper", yref="paper", x0=fx(6), x1=1.0,
                       y0=fy(py), y1=fy(py), line=LINE))
shapes.append(dict(type="line", xref="paper", yref="paper", x0=fx(6.5), x1=fx(6.5),
                   y0=fy(4), y1=0, line=LINE))
for top, bot in [(33, 386), (413, 763), (790, H)]:
    shapes.append(dict(type="line", xref="paper", yref="paper", x0=fx(448), x1=fx(448),
                       y0=fy(top), y1=fy(bot), line=LINE))

annotations = []
TITLE_FONT = dict(family=FONT, size=18, color="#111")
for title, yc in zip(SYSTEM_TITLES, [18.5, 399.5, 776.5]):
    annotations.append(dict(text="<b>%s</b>" % title, x=fx(450), y=fy(yc), xref="paper",
                            yref="paper", showarrow=False, xanchor="center", yanchor="middle",
                            font=TITLE_FONT))
for yc in [48, 427.5, 806]:
    for title, xc in zip(COLUMN_TITLES, [229, 671]):
        annotations.append(dict(text="<b>%s</b>" % title, x=fx(xc), y=fy(yc), xref="paper",
                                yref="paper", showarrow=False, xanchor="center",
                                yanchor="middle", font=TITLE_FONT))

fig.update_layout(width=W, height=H, margin=dict(l=0, r=0, t=0, b=0),
                  paper_bgcolor="white", plot_bgcolor="white",
                  shapes=shapes, annotations=annotations, **layout)
fig.write_html("out.html", config={"displayModeBar": False})
